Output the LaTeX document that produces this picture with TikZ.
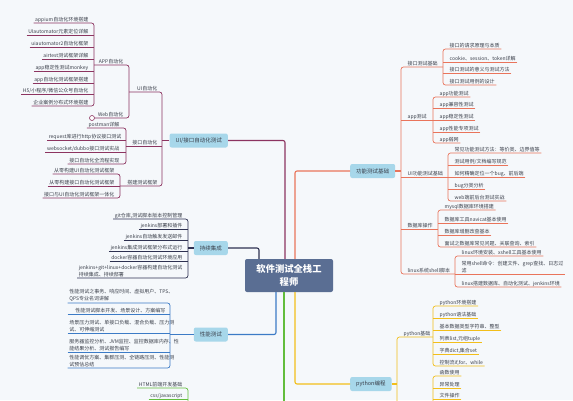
\documentclass[tikz,border=0pt]{standalone}
\usepackage{fontspec}
\newfontfamily\cjk{Noto Sans CJK SC}
\usetikzlibrary{calc}

\definecolor{bgc}{HTML}{F5F8FB}
\definecolor{rootc}{HTML}{5A6E93}
\definecolor{topicc}{HTML}{A7D7EA}
\definecolor{txtc}{HTML}{3A3F4A}
\definecolor{cUI}{HTML}{8C3460}
\definecolor{cFn}{HTML}{E9745B}
\definecolor{cCI}{HTML}{2E3151}
\definecolor{cPf}{HTML}{3C7BC6}
\definecolor{cPy}{HTML}{F2BE1A}
\definecolor{cWb}{HTML}{62BD3C}

\tikzset{
  root/.style={fill=rootc, rounded corners=2pt, text=white, align=center,
    font=\cjk\bfseries\fontsize{9.3}{12.5}\selectfont, minimum width=88pt,
    minimum height=33pt, inner sep=2pt},
  topic/.style={fill=topicc, rounded corners=2pt, text=txtc,
    font=\cjk\fontsize{5.5}{6.5}\selectfont, minimum height=14pt, inner xsep=6pt},
  leafbase/.style={text=txtc, font=\cjk\fontsize{5}{7}\selectfont,
    inner xsep=1.5pt, inner ysep=1pt},
  leaf/.style={leafbase, text height=4.2pt, text depth=0.8pt},
  leafm/.style={leafbase, align=left},
  trunk/.style={line width=1.1pt, rounded corners=2pt},
  twig/.style={line width=0.7pt, rounded corners=2.5pt},
}

\begin{document}
\begin{tikzpicture}[x=1pt, y=-1pt]
  \fill[bgc] (0,0) rectangle (573,400);
  \useasboundingbox (0,0) rectangle (573,400);

  % centre and main topics
  \node[root] (root) at (289,275.5) {软件测试全栈工\\程师};
  \node[topic, anchor=east] (ui) at (228,140.5) {UI/接口自动化测试};
  \node[topic, anchor=east] (ci) at (228,248) {持续集成};
  \node[topic, anchor=east] (pf) at (228,334.5) {性能测试};
  \node[topic, anchor=west] (fn) at (350,171) {功能测试基础};
  \node[topic, anchor=west] (py) at (350,384) {python编程};

  % branch columns
  \coordinate (vUI) at (162,0);
  \coordinate (vUIa) at (129,0);
  \coordinate (vApp) at (94,0);
  \coordinate (vApi) at (126,0);
  \coordinate (vFrm) at (120,0);
  \coordinate (vCI) at (188,0);
  \coordinate (vPf) at (170,0);
  \coordinate (vWb) at (188,0);
  \coordinate (vFn) at (401,0);
  \coordinate (vJk) at (443,0);
  \coordinate (vAp) at (433,0);
  \coordinate (vUf) at (448,0);
  \coordinate (vDb) at (438,0);
  \coordinate (vLx) at (455,0);
  \coordinate (vPy) at (397,0);
  \coordinate (vPb) at (433,0);
  \coordinate (webEnd) at (284,402);
  \coordinate (webSub) at (188,402);
  \coordinate (pyEnd) at (397,402);
  \coordinate (pySub) at (433,402);

  \draw[trunk, cUI] ([xshift=-4pt]root.north) |- (ui.east);
  \draw[trunk, cFn] ([xshift=6pt]root.north) |- (fn.west);
  \draw[trunk, cCI] ([xshift=-30pt]root.north) |- (ci.east);
  \draw[trunk, cPf] ([xshift=-13pt]root.south) |- (pf.east);
  \draw[trunk, cWb] ([xshift=-5pt]root.south) -- (webEnd);
  \draw[trunk, cPy] ([xshift=6pt]root.south) |- (py.west);

  % UI / api automation
  \node[leaf, anchor=south east] (uiA) at (159,92) {UI自动化};
  \node[leaf, anchor=south east] (apiA) at (159,146) {接口自动化};
  \node[leaf, anchor=south east] (frmA) at (159,186) {搭建测试框架};
  \draw[trunk, cUI] (ui.west) -- (ui.west -| vUI);
  \draw[twig, cUI] (uiA.south -| vUIa) -- (uiA.south -| vUI) -- (frmA.south -| vUI) -- (frmA.south -| vFrm);
  \draw[twig, cUI] (apiA.south -| vApi) -- (apiA.south -| vUI);

  \node[leaf, anchor=south east] (appA) at (125,65) {APP自动化};
  \node[leaf, anchor=south east] (webA) at (125,118) {Web自动化};
  \node[circle, draw=cUI, fill=white, line width=0.6pt, inner sep=0pt, minimum size=5pt] (wmark) at (92,118) {};
  \draw[twig, cUI] (appA.south -| vApp) -- (appA.south -| vUIa) -- (webA.south -| vUIa) -- (wmark.east);

  \node[leaf, anchor=south east] (ap1) at (90,23) {appium自动化环境搭建};
  \node[leaf, anchor=south east] (ap2) at (90,35) {UIautomator元素定位详解};
  \node[leaf, anchor=south east] (ap3) at (90,47) {uiautomator2自动化框架};
  \node[leaf, anchor=south east] (ap4) at (90,59) {airtest测试框架详解};
  \node[leaf, anchor=south east] (ap5) at (90,71) {app稳定性测试monkey};
  \node[leaf, anchor=south east] (ap6) at (90,83) {app自动化测试框架搭建};
  \node[leaf, anchor=south east] (ap7) at (90,94) {H5/小程序/微信公众号自动化};
  \node[leaf, anchor=south east] (ap8) at (90,106) {企业案例分布式环境搭建};
  \draw[twig, cUI] (ap1.south west) -- (ap1.south -| vApp) -- (ap8.south -| vApp) -- (ap8.south west);
  \draw[twig, cUI] (ap2.south west) -- (ap2.south -| vApp);
  \draw[twig, cUI] (ap3.south west) -- (ap3.south -| vApp);
  \draw[twig, cUI] (ap4.south west) -- (ap4.south -| vApp);
  \draw[twig, cUI] (ap5.south west) -- (ap5.south -| vApp);
  \draw[twig, cUI] (ap6.south west) -- (ap6.south -| vApp);
  \draw[twig, cUI] (ap7.south west) -- (ap7.south -| vApp);

  \node[leaf, anchor=south east] (api1) at (121,128) {postman详解};
  \node[leaf, anchor=south east] (api2) at (123,140) {request库进行http协议接口测试};
  \node[leaf, anchor=south east] (api3) at (121,152) {websocket/dubbo接口测试实战};
  \node[leaf, anchor=south east] (api4) at (121,164) {接口自动化全流程实现};
  \draw[twig, cUI] (api1.south west) -- (api1.south -| vApi) -- (api4.south -| vApi) -- (api4.south west);
  \draw[twig, cUI] (api2.south west) -- (api2.south -| vApi);
  \draw[twig, cUI] (api3.south west) -- (api3.south -| vApi);

  \node[leaf, anchor=south east] (fr1) at (116,174) {从零构建UI自动化测试框架};
  \node[leaf, anchor=south east] (fr2) at (116,186) {从零构建接口自动化测试框架};
  \node[leaf, anchor=south east] (fr3) at (116,198) {接口与UI自动化测试框架一体化};
  \draw[twig, cUI] (fr1.south west) -- (fr1.south -| vFrm) -- (fr3.south -| vFrm) -- (fr3.south west);
  \draw[twig, cUI] (fr2.south west) -- (fr2.south -| vFrm);

  % continuous integration
  \node[leaf, anchor=south east] (ci1) at (184,219) {git仓库,测试脚本版本控制管理};
  \node[leaf, anchor=south east] (ci2) at (184,229) {jenkins部署和插件};
  \node[leaf, anchor=south east] (ci3) at (184,240) {jenkins自动触发发送邮件};
  \node[leaf, anchor=south east] (ci4) at (184,251) {jenkins集成测试框架分布式运行};
  \node[leaf, anchor=south east] (ci5) at (184,261) {docker容器自动化测试环境应用};
  \node[leafm, anchor=south east] (ci6) at (184,278) {jenkins+git+linux+docker容器构建自动化测试\\持续集成、持续部署};
  \draw[trunk, cCI] (ci.west) -- (ci.west -| vCI);
  \draw[twig, cCI] (ci1.south west) -- (ci1.south -| vCI) -- (ci6.south -| vCI) -- (ci6.south west);
  \draw[twig, cCI] (ci2.south west) -- (ci2.south -| vCI);
  \draw[twig, cCI] (ci3.south west) -- (ci3.south -| vCI);
  \draw[twig, cCI] (ci4.south west) -- (ci4.south -| vCI);
  \draw[twig, cCI] (ci5.south west) -- (ci5.south -| vCI);

  % performance
  \node[leafm, anchor=south east, text width=96pt] (pf1) at (167,303) {性能测试之事务、响应时间、虚拟用户、TPS、\\QPS专业名词讲解};
  \node[leafm, anchor=south east, text width=96pt, align=right] (pf2) at (167,314) {性能测试脚本开发、场景设计、方案编写};
  \node[leafm, anchor=south east, text width=96pt] (pf3) at (167,333) {场景压力测试、单接口负载、混合负载、压力测\\试、可伸缩测试};
  \node[leafm, anchor=south east, text width=96pt] (pf4) at (167,352) {服务器监控分析、JVM监控、监控数据库内存、性\\能结果分析、测试报告编写};
  \node[leafm, anchor=south east, text width=96pt] (pf5) at (167,368) {性能调优方案、集群压测、全链路压测、性能测\\试预估总结};
  \draw[trunk, cPf] (pf.west) -- (pf.west -| vPf);
  \draw[twig, cPf] (pf1.south west) -- (pf1.south -| vPf) -- (pf5.south -| vPf) -- (pf5.south west);
  \draw[twig, cPf] (pf2.south west) -- (pf2.south -| vPf);
  \draw[twig, cPf] (pf3.south west) -- (pf3.south -| vPf);
  \draw[twig, cPf] (pf4.south west) -- (pf4.south -| vPf);

  % web front end
  \node[leaf, anchor=south east] (wb1) at (184,388) {HTML前端开发基础};
  \node[leaf, anchor=south east] (wb2) at (184,399) {css/javascript};
  \draw[twig, cWb] (wb1.south west) -- (wb1.south -| vWb) -- (webSub);
  \draw[twig, cWb] (wb2.south west) -- (wb2.south -| vWb);

  % functional testing
  \node[leaf, anchor=south west] (jkB) at (406,67) {接口测试基础};
  \node[leaf, anchor=south west] (apB) at (406,120) {app测试};
  \node[leaf, anchor=south west] (uiB) at (406,177) {UI功能测试基础};
  \node[leaf, anchor=south west] (dbB) at (406,229) {数据库操作};
  \node[leaf, anchor=south west] (lxB) at (406,274) {linux系统shell脚本};
  \draw[trunk, cFn] (fn.east) -- (fn.east -| vFn);
  \draw[twig, cFn] (jkB.south -| vJk) -- (jkB.south -| vFn) -- (lxB.south -| vFn) -- (lxB.south -| vLx);
  \draw[twig, cFn] (apB.south -| vFn) -- (apB.south -| vAp);
  \draw[twig, cFn] (uiB.south -| vFn) -- (uiB.south -| vUf);
  \draw[twig, cFn] (dbB.south -| vFn) -- (dbB.south -| vDb);

  \node[leaf, anchor=south west] (jk1) at (448,49) {接口的请求原理与本质};
  \node[leaf, anchor=south west] (jk2) at (448,62) {cookie、session、token详解};
  \node[leaf, anchor=south west] (jk3) at (448,73) {接口测试的意义与测试方法};
  \node[leaf, anchor=south west] (jk4) at (448,85) {接口测试用例的设计};
  \draw[twig, cFn] (jk1.south east) -- (jk1.south -| vJk) -- (jk4.south -| vJk) -- (jk4.south east);
  \draw[twig, cFn] (jk2.south east) -- (jk2.south -| vJk);
  \draw[twig, cFn] (jk3.south east) -- (jk3.south -| vJk);

  \node[leaf, anchor=south west] (at1) at (438,97) {app功能测试};
  \node[leaf, anchor=south west] (at2) at (438,108) {app兼容性测试};
  \node[leaf, anchor=south west] (at3) at (438,120) {app稳定性测试};
  \node[leaf, anchor=south west] (at4) at (438,132) {app性能专项测试};
  \node[leaf, anchor=south west] (at5) at (438,143) {app弱网};
  \draw[twig, cFn] (at1.south east) -- (at1.south -| vAp) -- (at5.south -| vAp) -- (at5.south east);
  \draw[twig, cFn] (at2.south east) -- (at2.south -| vAp);
  \draw[twig, cFn] (at3.south east) -- (at3.south -| vAp);
  \draw[twig, cFn] (at4.south east) -- (at4.south -| vAp);

  \node[leaf, anchor=south west] (uf1) at (453,153) {常见功能测试方法：等价类、边界值等};
  \node[leaf, anchor=south west] (uf2) at (453,165) {测试用例/文档编写规范};
  \node[leaf, anchor=south west] (uf3) at (453,177) {如何精确定位一个bug、前后端};
  \node[leaf, anchor=south west] (uf4) at (453,189) {bug分类分析};
  \node[leaf, anchor=south west] (uf5) at (453,201) {web端前后台测试实战};
  \draw[twig, cFn] (uf1.south east) -- (uf1.south -| vUf) -- (uf5.south -| vUf) -- (uf5.south east);
  \draw[twig, cFn] (uf2.south east) -- (uf2.south -| vUf);
  \draw[twig, cFn] (uf3.south east) -- (uf3.south -| vUf);
  \draw[twig, cFn] (uf4.south east) -- (uf4.south -| vUf);

  \node[leaf, anchor=south west] (db1) at (443,210) {mysql数据库环境搭建};
  \node[leaf, anchor=south west] (db2) at (443,223) {数据库工具navicat基本使用};
  \node[leaf, anchor=south west] (db3) at (443,235) {数据库增删改查基本};
  \node[leaf, anchor=south west] (db4) at (443,247) {面试之数据库常见问题、关联查询、索引};
  \draw[twig, cFn] (db1.south east) -- (db1.south -| vDb) -- (db4.south -| vDb) -- (db4.south east);
  \draw[twig, cFn] (db2.south east) -- (db2.south -| vDb);
  \draw[twig, cFn] (db3.south east) -- (db3.south -| vDb);

  \node[leaf, anchor=south west] (lx1) at (460,256) {linux环境安装、xshell工具基本使用};
  \node[leafm, anchor=south west] (lx2) at (460,274) {常用shell命令：创建文件、grep查找、日志过\\滤};
  \node[leaf, anchor=south west] (lx3) at (460,287) {linux搭建数据库、自动化测试、jenkins环境};
  \draw[twig, cFn] (lx1.south east) -- (lx1.south -| vLx) -- (lx3.south -| vLx) -- (lx3.south east);
  \draw[twig, cFn] (lx2.south east) -- (lx2.south -| vLx);

  % python
  \node[leaf, anchor=south west] (pbB) at (402,337) {python基础};
  \draw[trunk, cPy] (py.east) -- (py.east -| vPy);
  \draw[twig, cPy] (pbB.south -| vPb) -- (pbB.south -| vPy) -- (pyEnd);

  \node[leaf, anchor=south west] (pb1) at (438,306) {python环境搭建};
  \node[leaf, anchor=south west] (pb2) at (438,318) {python语法基础};
  \node[leaf, anchor=south west] (pb3) at (438,330) {基本数据类型字符串、整型};
  \node[leaf, anchor=south west] (pb4) at (438,342) {列表list,元组tuple};
  \node[leaf, anchor=south west] (pb5) at (438,354) {字典dict,集合set};
  \node[leaf, anchor=south west] (pb6) at (438,366) {控制流if,for、while};
  \draw[twig, cPy] (pb1.south east) -- (pb1.south -| vPb) -- (pb6.south -| vPb) -- (pb6.south east);
  \draw[twig, cPy] (pb2.south east) -- (pb2.south -| vPb);
  \draw[twig, cPy] (pb3.south east) -- (pb3.south -| vPb);
  \draw[twig, cPy] (pb4.south east) -- (pb4.south -| vPb);
  \draw[twig, cPy] (pb5.south east) -- (pb5.south -| vPb);

  \node[leaf, anchor=south west] (fu1) at (438,376) {函数使用};
  \node[leaf, anchor=south west] (fu2) at (438,388) {异常处理};
  \node[leaf, anchor=south west] (fu3) at (438,399) {文件操作};
  \draw[twig, cPy] (fu1.south east) -- (fu1.south -| vPb) -- (pySub);
  \draw[twig, cPy] (fu2.south east) -- (fu2.south -| vPb);
  \draw[twig, cPy] (fu3.south east) -- (fu3.south -| vPb);
\end{tikzpicture}
\end{document}
